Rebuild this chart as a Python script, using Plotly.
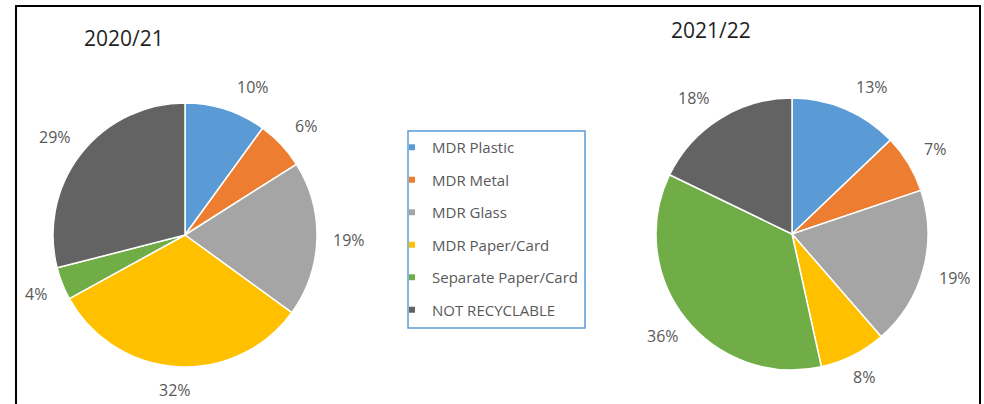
import math
import plotly.graph_objects as go

# ---- data ----
categories = ["MDR Plastic", "MDR Metal", "MDR Glass", "MDR Paper/Card",
              "Separate Paper/Card", "NOT RECYCLABLE"]
values_2020 = [10, 6, 19, 32, 4, 29]
values_2021 = [13, 7, 19, 8, 36, 18]
titles = ["2020/21", "2021/22"]
colors = ["#5B9BD5", "#ED7D31", "#A5A5A5", "#FFC000", "#70AD47", "#636363"]

# ---- layout constants ----
W, H = 984, 404
FONT = "Open Sans"
LABEL_COLOR = "#595959"
domains = [
    dict(x=[53 / W, 317 / W], y=[37 / H, 301 / H]),
    dict(x=[656 / W, 928 / W], y=[34 / H, 306 / H]),
]
title_pos = [(124, 38), (711, 30)]

fig = go.Figure()
annotations = []

for vals, dom, title, tpos in zip([values_2020, values_2021], domains, titles, title_pos):
    fig.add_trace(go.Pie(
        labels=categories, values=vals, domain=dom, sort=False,
        direction="clockwise", rotation=0, textinfo="none",
        marker=dict(colors=colors, line=dict(color="white", width=1.5)),
        showlegend=False, hovertemplate="%{label}: %{value}%<extra></extra>",
    ))
    # data labels placed just outside each slice (Excel "outside end" style)
    cx = (dom["x"][0] + dom["x"][1]) / 2 * W
    cy = (1 - (dom["y"][0] + dom["y"][1]) / 2) * H
    r = min((dom["x"][1] - dom["x"][0]) * W, (dom["y"][1] - dom["y"][0]) * H) / 2
    total = sum(vals)
    cum = 0
    for v in vals:
        mid = (cum + v / 2) / total * 2 * math.pi
        cum += v
        txt = f"{v}%"
        w, h = 11 * len(txt), 15
        s, c = math.sin(mid), math.cos(mid)
        f = min((w / 2) / abs(s) if abs(s) > 1e-6 else 1e9,
                (h / 2) / abs(c) if abs(c) > 1e-6 else 1e9)
        R = r + 16 + f
        px, py = cx + R * s, cy - R * c
        if c > 0:  # labels above the centre are pushed sideways, away from the pie
            px += 24 * math.copysign(1, s) * c ** 4
        annotations.append(dict(
            x=px / W, y=1 - py / H, xref="paper", yref="paper", text=txt,
            showarrow=False, xanchor="center", yanchor="middle",
            font=dict(family=FONT, size=16, color=LABEL_COLOR)))
    annotations.append(dict(
        x=tpos[0] / W, y=1 - tpos[1] / H, xref="paper", yref="paper", text=title,
        showarrow=False, xanchor="center", yanchor="middle",
        font=dict(family=FONT, size=21, color="#1f1f1f")))

# legend entries (one group each so that rows can be spaced like the original)
for cat, col in zip(categories, colors):
    fig.add_trace(go.Scatter(
        x=[None], y=[None], mode="markers", name=cat, legendgroup=cat,
        marker=dict(symbol="square", size=6, color=col), hoverinfo="skip"))

fig.update_layout(
    width=W, height=H, margin=dict(l=0, r=0, t=0, b=0),
    paper_bgcolor="white", plot_bgcolor="white",
    font=dict(family=FONT, color=LABEL_COLOR),
    xaxis=dict(visible=False), yaxis=dict(visible=False),
    showlegend=True,
    legend=dict(x=392 / W, y=1 - 131 / H, xanchor="left", yanchor="top",
                font=dict(family=FONT, size=15, color=LABEL_COLOR),
                bgcolor="rgba(0,0,0,0)", borderwidth=0,
                tracegroupgap=10.0, traceorder="grouped", itemsizing="trace"),
    annotations=annotations,
    shapes=[
        dict(type="rect", xref="paper", yref="paper",
             x0=408 / W, x1=585 / W, y0=1 - 131 / H, y1=1 - 328 / H,
             line=dict(color="#5B9BD5", width=1.5)),
        dict(type="rect", xref="paper", yref="paper",
             x0=16 / W, x1=980 / W, y0=1 - 6 / H, y1=-0.1,
             line=dict(color="black", width=2)),
    ],
)

fig.write_html("out.html", config={"displayModeBar": False})
